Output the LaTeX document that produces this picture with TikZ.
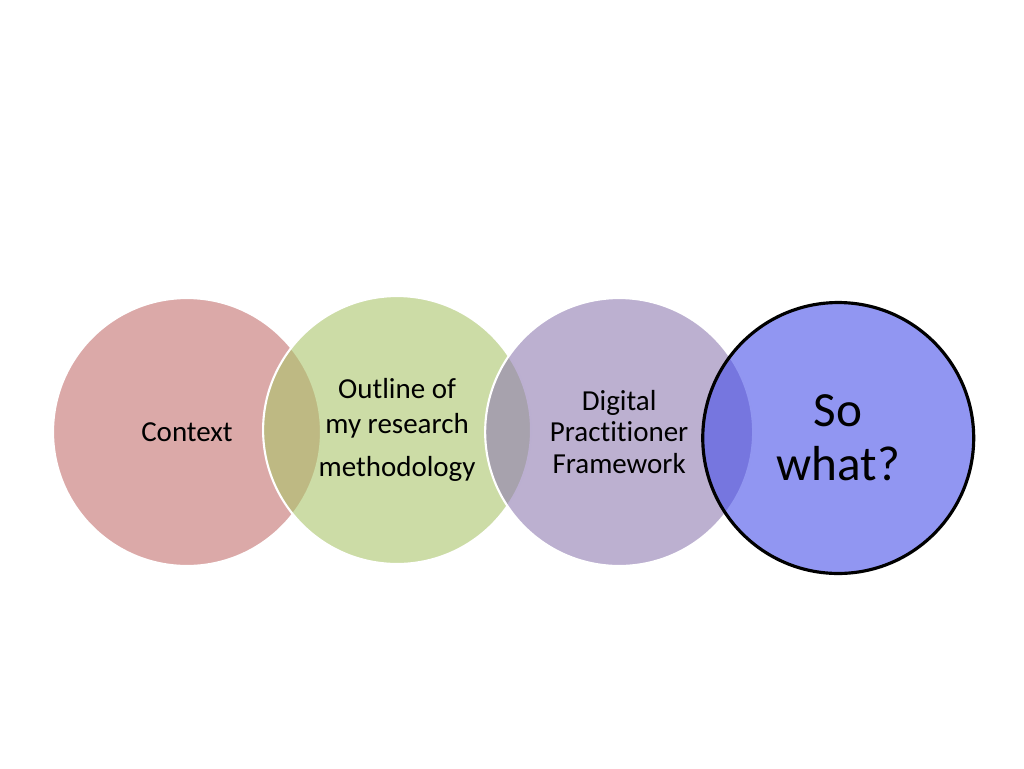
\documentclass[tikz,border=0pt]{standalone}
\usepackage{fontspec}
\setmainfont{Carlito}[Ligatures=NoCommon]
\usetikzlibrary{positioning}

\definecolor{contextred}{RGB}{195,112,110}
\definecolor{outlinegreen}{RGB}{170,197,107}
\definecolor{digitalpurple}{RGB}{143,123,177}
\definecolor{sowhatblue}{RGB}{72,80,233}

\tikzset{
	topic/.style={circle, minimum size=5.36cm, inner sep=0pt, draw=white, line width=1.2pt,
		fill opacity=0.6, text opacity=1, align=center, font=\fontsize{16.5}{19.5}\selectfont},
}

\begin{document}
\begin{tikzpicture}[x=0.02cm, y=-0.02cm]
		\useasboundingbox (0,0) rectangle (1024,768);
		\node[topic, fill=contextred] (context) at (187,432) {Context};
		\node[topic, fill=outlinegreen, right=-1.2cm of context, yshift=0.04cm] (outline) {Outline of\\my research\\[5pt]methodology};
		\node[topic, fill=digitalpurple, right=-0.96cm of outline, yshift=-0.04cm, font=\fontsize{16.5}{18}\selectfont] (digital) {Digital\\Practitioner\\Framework};
		\node[topic, fill=sowhatblue, draw=black, line width=1.8pt, minimum size=5.42cm,
			right=-1.06cm of digital, yshift=-0.12cm, font=\fontsize{28}{30.5}\selectfont] (sowhat) {So\\what?};
	\end{tikzpicture}
\end{document}
